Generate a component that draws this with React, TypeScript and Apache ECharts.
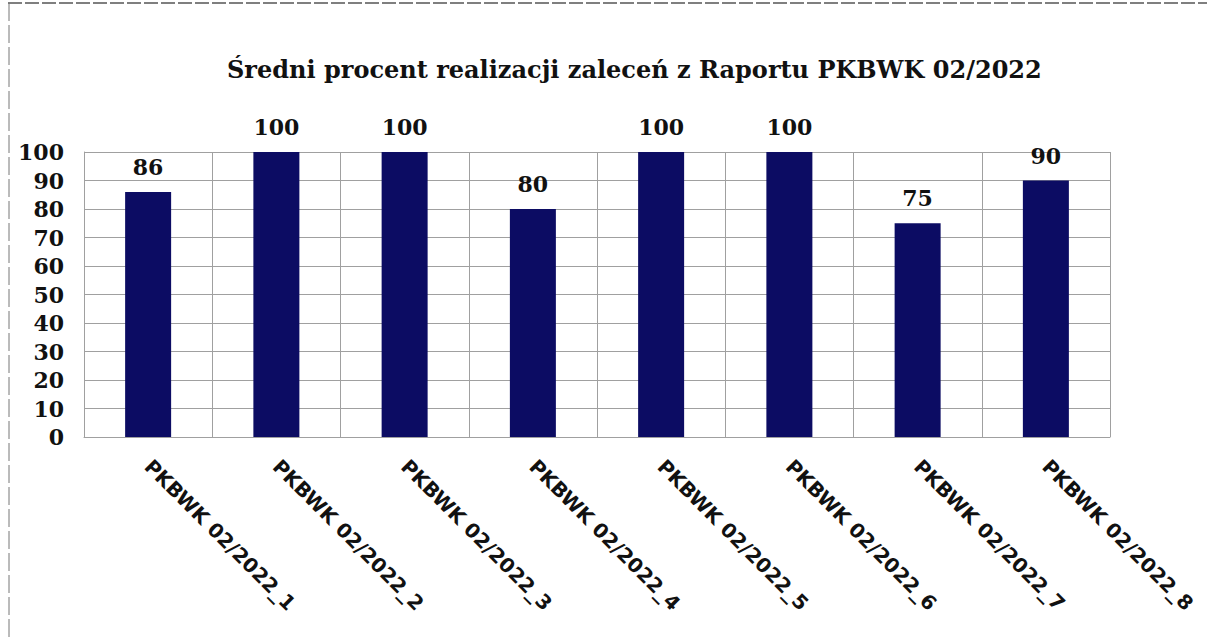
import React, { useEffect, useRef } from "react";
import * as echarts from "echarts";

const titleText = "Średni procent realizacji zaleceń z Raportu PKBWK 02/2022";
const categories = [
  "PKBWK 02/2022_1",
  "PKBWK 02/2022_2",
  "PKBWK 02/2022_3",
  "PKBWK 02/2022_4",
  "PKBWK 02/2022_5",
  "PKBWK 02/2022_6",
  "PKBWK 02/2022_7",
  "PKBWK 02/2022_8",
];
const values = [86, 100, 100, 80, 100, 100, 75, 90];
const yMin = 0;
const yMax = 100;
const yStep = 10;

export default function App() {
  const ref = useRef<HTMLDivElement>(null);
  useEffect(() => {
    document.body.style.margin = "0";
    if (!ref.current) return;
    const chart = echarts.init(ref.current, null, { renderer: "svg" });
    const serif = "'DejaVu Serif', 'Liberation Serif', serif";
    const gridColor = "#a0a0a0";
    chart.setOption({
      animation: false,
      backgroundColor: "#ffffff",
      title: {
        text: titleText,
        left: 222,
        top: 52,
        textStyle: {
          fontFamily: serif,
          fontWeight: "bold",
          fontSize: 24,
          color: "#111111",
        },
      },
      grid: { left: 84, right: 97, top: 152, bottom: 202 },
      xAxis: {
        type: "category",
        data: categories,
        axisLine: { show: true, lineStyle: { color: gridColor, width: 1 } },
        axisTick: { show: false },
        splitLine: { show: true, lineStyle: { color: gridColor, width: 1 } },
        axisLabel: {
          rotate: -45,
          interval: 0,
          margin: 26,
          fontFamily: "'DejaVu Sans', sans-serif",
          fontWeight: "bold",
          fontSize: 20,
          color: "#111111",
        },
      },
      yAxis: {
        type: "value",
        min: yMin,
        max: yMax,
        interval: yStep,
        axisLine: { show: true, lineStyle: { color: gridColor, width: 1 } },
        axisTick: { show: false },
        splitLine: { show: true, lineStyle: { color: gridColor, width: 1 } },
        axisLabel: {
          margin: 20,
          fontFamily: serif,
          fontWeight: "bold",
          fontSize: 22,
          color: "#111111",
        },
      },
      series: [
        {
          type: "bar",
          data: values,
          barWidth: 46,
          itemStyle: { color: "#0c0c63" },
          label: {
            show: true,
            position: "top",
            distance: 14,
            fontFamily: serif,
            fontWeight: "bold",
            fontSize: 22,
            color: "#111111",
          },
        },
      ],
      graphic: [
        {
          type: "line",
          shape: { x1: 8, y1: 3, x2: 1207, y2: 3 },
          style: { stroke: "#555555", lineWidth: 1.5, lineDash: [14, 3] },
        },
        {
          type: "line",
          shape: { x1: 9, y1: 3, x2: 9, y2: 639 },
          style: { stroke: "#777777", lineWidth: 1, lineDash: [18, 4] },
        },
      ],
    });
    return () => chart.dispose();
  }, []);
  return <div ref={ref} style={{ width: 1207, height: 639 }} />;
}
